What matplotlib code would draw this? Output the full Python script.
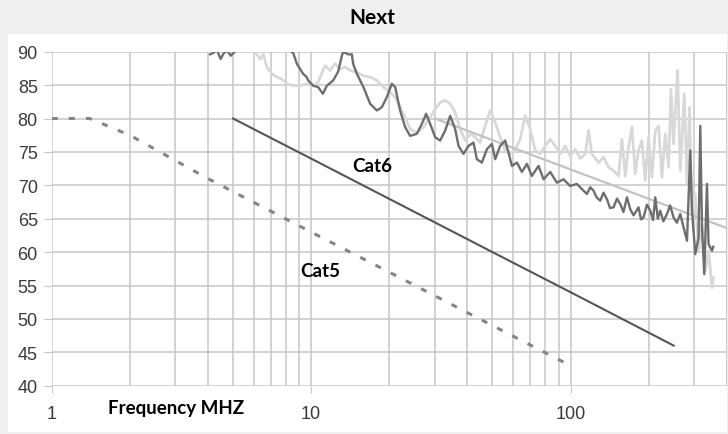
import matplotlib
matplotlib.use("Agg")
import matplotlib.pyplot as plt
from matplotlib.patches import Rectangle
from matplotlib.ticker import FixedLocator, NullFormatter, FixedFormatter

# cable limit lines (MHz, dB)
cat5_freq = [1, 1.4, 2, 4, 10, 20, 50, 100]
cat5_db = [80, 80, 77.5, 71, 63, 57, 49, 43]

cat6_freq = [5, 10, 50, 100, 250]
cat6_db = [80, 74, 60, 54, 46]

limit_freq = [30, 400]
limit_db = [80, 63.6]

# measured trace, dark
meas_a_freq = [4.08, 4.19, 4.33, 4.48, 4.59, 4.74, 4.90, 5.05, 5.25, 6.0, 7.5,
               8.55, 8.81, 9.31, 9.62, 9.74, 10.2, 10.64, 11.1, 11.5, 12.16,
               12.71, 13.14, 13.29, 13.89, 14.36, 14.52, 15.01, 15.91, 16.89,
               17.92, 18.74, 19.58, 20.47, 21.09, 22.04, 23.04, 24.08, 25.56,
               26.72, 27.77, 28.77, 30.08, 31.44, 32.87, 34.37, 35.93, 37.0,
               38.67, 40.43, 42.27, 43.55, 45.53, 47.61, 49.77, 51.25, 53.57,
               56.0, 57.67, 59.43, 62.13, 64.95, 67.91, 70.98, 75.27, 78.7,
               83.5, 88.6, 94.0, 99.7, 105.8, 112.2, 115.7, 119.1, 122.7,
               126.0, 130.2, 134.0, 138.2, 142.0, 146.5, 151.0, 155.5, 160.0,
               165.0, 170.0, 175.0, 182.9, 187.0, 191.2, 197.0, 203.0, 208.0,
               212.2, 217.0, 221.8, 228.0, 235.4, 242.0, 249.6, 257.0, 264.9,
               272.8, 281.2, 289.5, 293.9, 302.6, 311.6, 316.4, 321.2, 327.8,
               335.7, 340.5, 351.0, 355.0]
meas_a_db = [89.6, 89.8, 90.3, 88.9, 89.7, 90.2, 89.4, 89.9, 91.0, 93.0, 92.0,
             89.7, 88.2, 86.7, 86.2, 85.7, 84.9, 84.7, 83.7, 84.9, 85.7,
             87.0, 89.4, 90.0, 89.6, 89.6, 88.2, 86.7, 84.7, 82.2,
             81.2, 81.7, 83.2, 85.2, 84.7, 81.2, 78.7, 77.4, 77.7,
             79.2, 80.7, 79.2, 77.2, 76.7, 78.2, 80.4, 78.4, 75.9,
             74.7, 75.9, 76.4, 73.9, 73.4, 75.4, 76.2, 73.9, 75.9,
             76.7, 74.9, 72.9, 73.4, 72.0, 73.2, 71.4, 72.9, 70.9,
             72.0, 70.4, 70.9, 69.9, 70.2, 69.2, 68.7, 69.7, 69.2,
             68.2, 67.7, 68.9, 67.9, 66.6, 66.7, 68.0, 67.2, 66.0,
             68.2, 66.4, 65.5, 66.7, 64.9, 65.2, 67.1, 66.2, 64.8,
             68.2, 65.0, 66.2, 64.6, 65.7, 67.0, 65.2, 64.4, 65.7,
             63.7, 61.7, 75.2, 66.2, 59.7, 62.2, 78.9, 63.7, 56.7,
             70.2, 61.2, 60.2, 60.8]

# measured trace, light
meas_b_freq = [5.32, 5.82, 6.08, 6.36, 6.55, 6.75, 7.06, 7.38, 7.71, 8.06,
               8.55, 9.07, 9.62, 10.2, 10.64, 11.1, 11.32, 11.84, 12.38,
               12.94, 13.53, 14.14, 15.01, 15.91, 16.89, 17.92, 19.0, 20.17,
               21.09, 22.04, 23.04, 24.08, 25.56, 27.11, 28.77, 30.08, 31.44,
               32.87, 34.37, 35.93, 37.55, 39.26, 41.05, 42.91, 44.85, 46.9,
               49.0, 51.25, 53.57, 56.0, 58.53, 61.2, 63.97, 66.88, 69.9,
               73.1, 76.4, 79.9, 83.5, 87.3, 91.3, 95.4, 99.7, 104.3, 109.0,
               114.0, 117.3, 120.9, 128.2, 134.1, 140.2, 146.5, 153.2, 157.8,
               162.5, 167.3, 172.5, 177.6, 182.9, 188.5, 194.1, 199.9, 206.0,
               212.2, 218.5, 225.2, 231.9, 238.8, 243.9, 249.6, 258.6, 264.9,
               274.5, 281.2, 287.7, 293.9, 302.6, 311.6, 321.2, 330.7, 340.5,
               351.0, 356.0]
meas_b_db = [91.0, 90.2, 90.0, 88.9, 89.6, 87.7, 86.7, 86.2, 85.9, 85.2,
             84.9, 84.9, 85.2, 84.9, 85.4, 87.2, 87.9, 87.2, 88.2,
             87.4, 87.7, 87.2, 86.9, 86.4, 86.2, 85.7, 84.7, 83.9,
             83.2, 81.7, 80.2, 78.4, 77.9, 78.7, 80.2, 81.4, 82.4,
             82.7, 82.2, 80.9, 78.4, 76.7, 77.7, 77.2, 76.4, 78.9,
             81.2, 79.4, 77.2, 75.2, 74.7, 75.4, 76.9, 80.4, 78.4,
             75.2, 74.7, 75.9, 76.9, 75.9, 74.7, 75.9, 74.4, 75.4, 74.0,
             74.7, 78.2, 74.7, 73.4, 74.2, 72.7, 72.2, 71.4, 76.9,
             71.4, 75.7, 78.7, 71.7, 75.2, 76.7, 70.7, 77.2, 71.2,
             78.2, 78.9, 71.2, 77.7, 72.7, 84.4, 76.2, 87.2, 72.2,
             83.7, 70.2, 81.7, 66.2, 68.7, 60.2, 64.2, 57.2, 60.2,
             54.7, 56.2]

y_ticks = [40, 45, 50, 55, 60, 65, 70, 75, 80, 85, 90]
x_major = [1, 10, 100]
x_major_labels = ["1", "10", "100"]
x_minor = [m * d for d in (1, 10, 100) for m in range(2, 10) if m * d <= 400]

grid_col = "#c6c6c6"

fig = plt.figure(figsize=(7.28, 4.35), dpi=100, facecolor="#efefef")
fig.patches.append(Rectangle((8 / 728, 2 / 435), 719 / 728, 398 / 435,
                             transform=fig.transFigure, facecolor="white",
                             edgecolor="none", zorder=-1))
ax = fig.add_axes([51.7 / 728, 48.3 / 435, 675 / 728, 334 / 435])
ax.set_facecolor("none")
ax.set_zorder(2)

ax.plot(meas_b_freq, meas_b_db, color="#d8d8d8", lw=2.0, zorder=3)
ax.plot(limit_freq, limit_db, color="#c2c2c2", lw=1.6, zorder=4)
ax.plot(meas_a_freq, meas_a_db, color="#6e6e6e", lw=1.7, zorder=5)
ax.plot(cat6_freq, cat6_db, color="#555555", lw=1.5, zorder=6)
ax.plot(cat5_freq, cat5_db, color="#858585", lw=2.2, dashes=(2.0, 3.6), zorder=6)

ax.set_xscale("log")
ax.set_xlim(1, 400)
ax.set_ylim(40, 90)

ax.xaxis.set_major_locator(FixedLocator(x_major))
ax.xaxis.set_major_formatter(FixedFormatter(x_major_labels))
ax.xaxis.set_minor_locator(FixedLocator(x_minor))
ax.xaxis.set_minor_formatter(NullFormatter())
ax.set_yticks(y_ticks)

ax.grid(True, which="both", color=grid_col, lw=1.1, zorder=1)
ax.set_axisbelow(True)
for s in ax.spines.values():
    s.set_visible(False)
ax.axvline(400, color=grid_col, lw=1.1, zorder=1)

ax.tick_params(axis="x", which="major", length=5, color=grid_col, pad=9,
               labelsize=13, labelcolor="#3a3a3a")
ax.tick_params(axis="x", which="minor", length=0)
ax.tick_params(axis="y", length=6, color=grid_col, pad=4,
               labelsize=13, labelcolor="#3a3a3a")
for lab in ax.get_xticklabels() + ax.get_yticklabels():
    lab.set_family("Liberation Sans")

ax.text(17.2, 73.0, "Cat6", fontsize=13.5, fontweight="bold", family="Lato",
        ha="center", va="center", zorder=7)
ax.text(10.8, 57.2, "Cat5", fontsize=13.5, fontweight="bold", family="Lato",
        ha="center", va="center", zorder=7)

fig.text(176 / 728, 1 - 409 / 435, "Frequency MHZ", fontsize=13.5,
         fontweight="bold", family="Lato", ha="center", va="center")
fig.text(372 / 728, 1 - 18 / 435, "Next", fontsize=15, fontweight="bold",
         family="Lato", ha="center", va="center")

fig.savefig("out.png", dpi=100, facecolor=fig.get_facecolor())
